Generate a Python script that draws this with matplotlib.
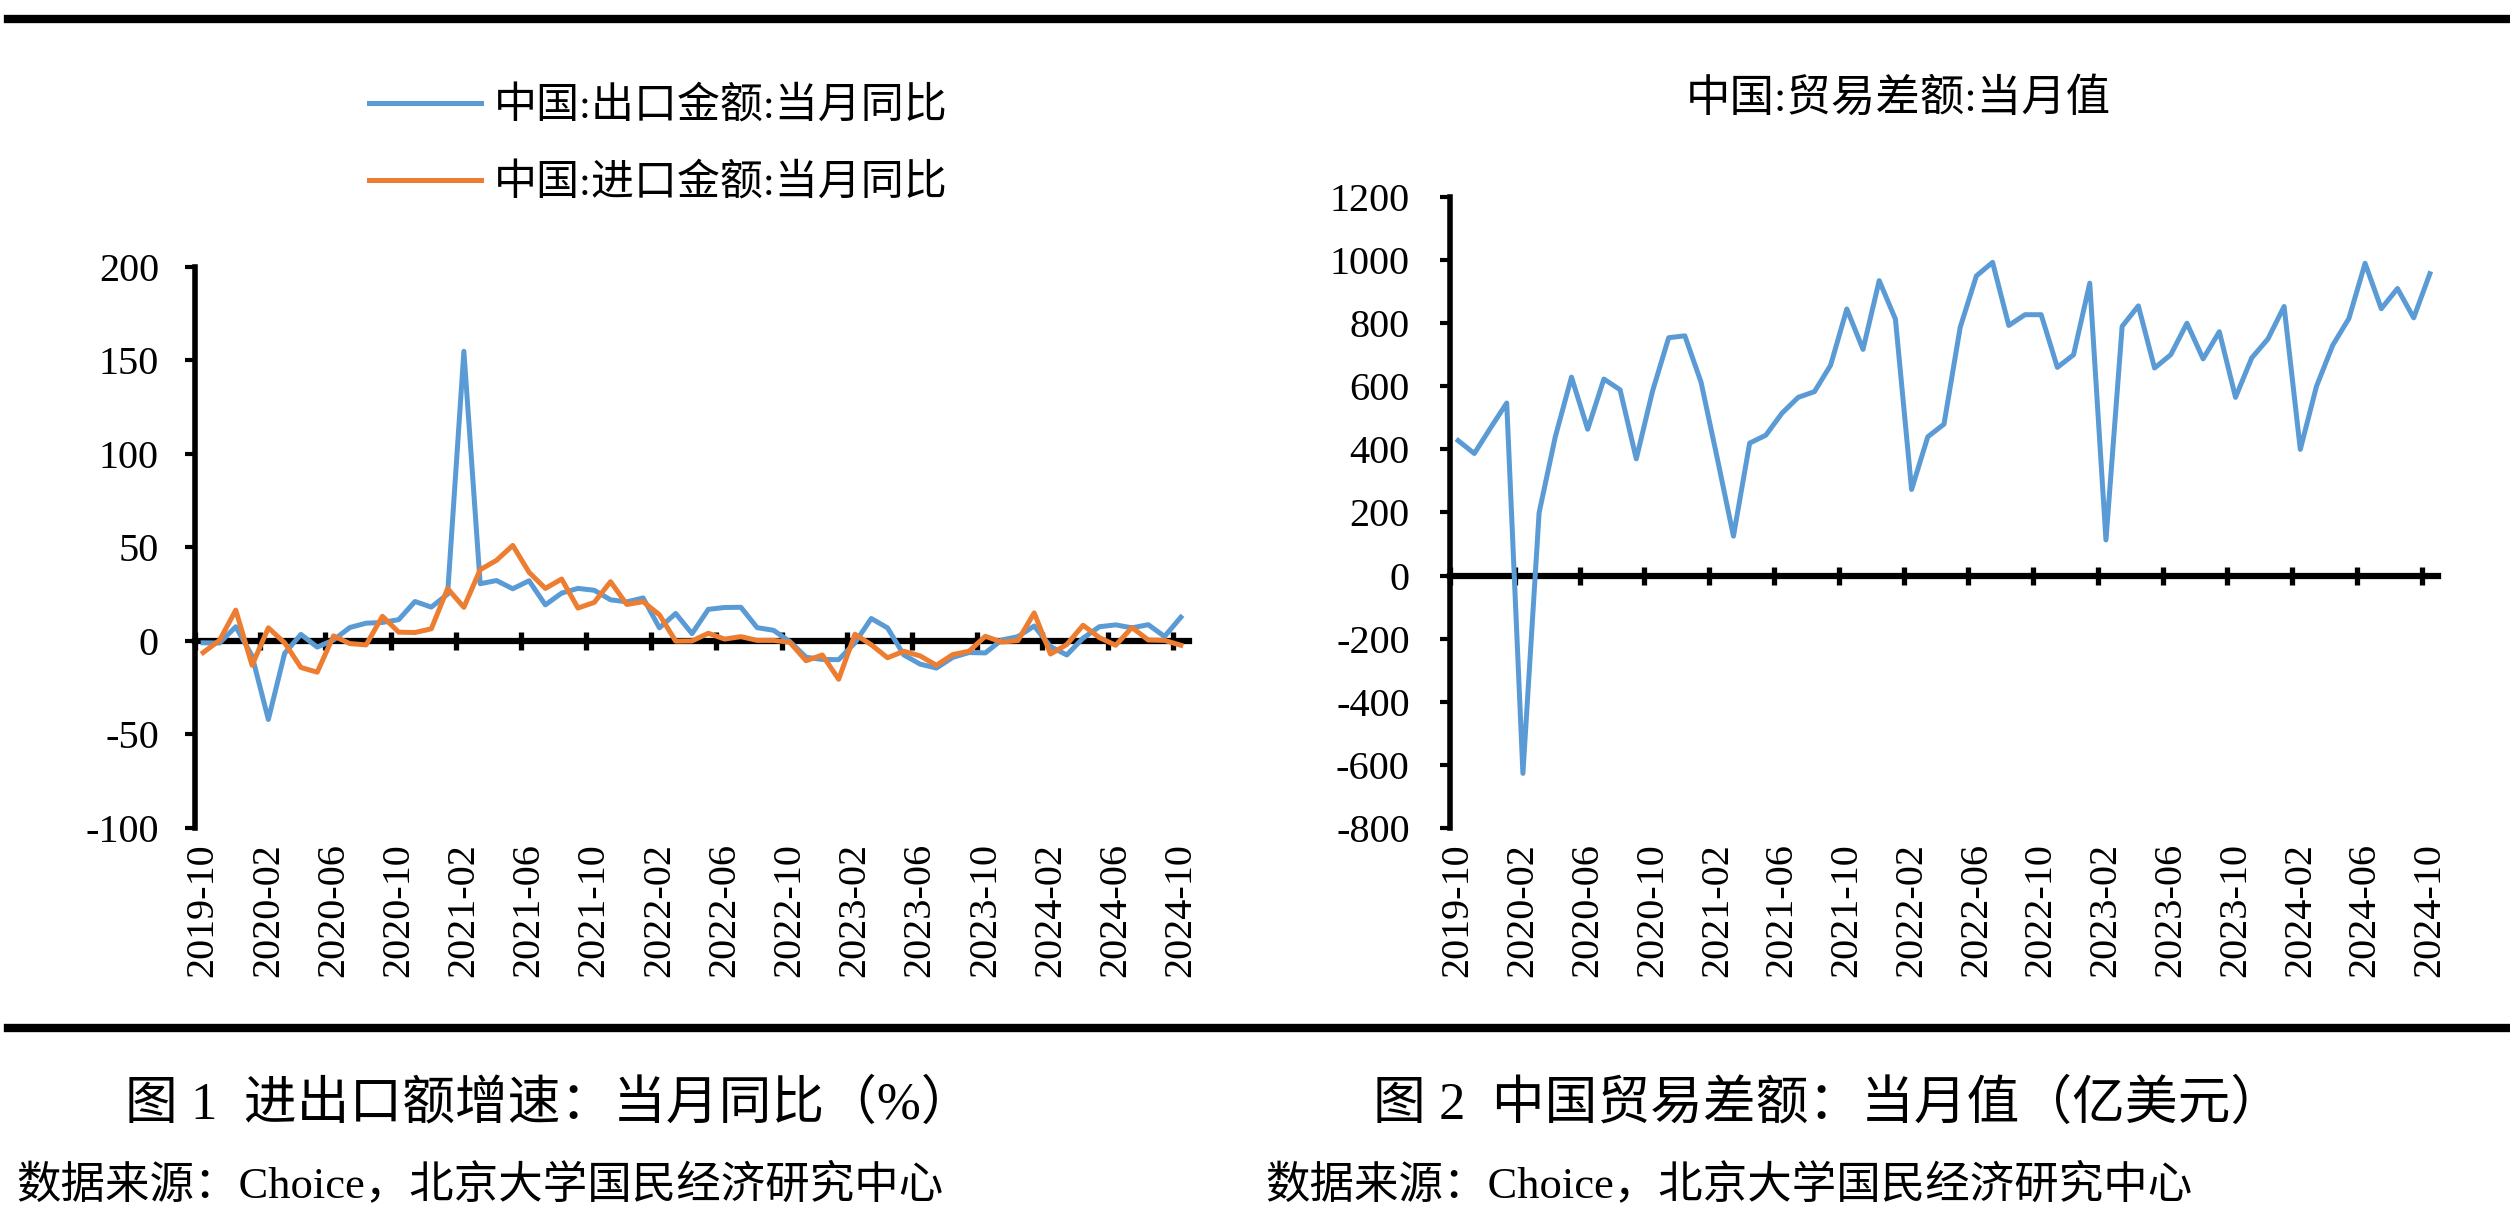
import matplotlib
matplotlib.use('Agg')
import matplotlib.pyplot as plt
from matplotlib.lines import Line2D
from matplotlib.font_manager import FontProperties
import numpy as np
import pandas as pd

# ---------------- data ----------------
months = [str(p) for p in pd.period_range('2019-10', '2024-10', freq='M')]
tick_labels = ['2019-10', '2020-02', '2020-06', '2020-10', '2021-02', '2021-06',
               '2021-10', '2022-02', '2022-06', '2022-10', '2023-02', '2023-06',
               '2023-10', '2024-02', '2024-06', '2024-10']

export_yoy = [-1.0, -1.1, 7.6, -8.0, -42.0, -6.6, 3.5, -3.3, 0.5, 7.2,
              9.5, 9.9, 11.4, 21.1, 18.1, 25.0, 154.9, 30.6, 32.3, 27.9,
              32.2, 19.3, 25.6, 28.1, 27.1, 22.0, 20.9, 23.0, 7.0, 14.7,
              3.9, 16.9, 17.9, 18.0, 7.1, 5.7, -0.3, -8.7, -9.9, -10.0,
              -1.0, 12.0, 7.0, -7.5, -12.4, -14.5, -8.8, -6.2, -6.4, 0.5,
              2.3, 8.0, -3.0, -7.5, 1.5, 7.6, 8.6, 7.0, 8.7, 2.4,
              12.7]

import_yoy = [-6.2, 0.3, 16.5, -13.0, 7.0, -1.0, -14.2, -16.7, 2.7, -1.4,
              -2.1, 13.2, 4.7, 4.5, 6.5, 28.0, 18.0, 38.1, 43.1, 51.1,
              36.7, 28.1, 33.1, 17.6, 20.6, 31.7, 19.5, 21.0, 14.0, -0.1,
              0.0, 4.1, 1.0, 2.3, 0.3, 0.3, -0.7, -10.6, -7.5, -20.5,
              3.6, -2.0, -9.0, -5.5, -8.0, -13.0, -7.3, -5.5, 2.5, -0.6,
              0.2, 15.0, -7.0, -1.9, 8.4, 1.8, -2.3, 7.2, 0.5, 0.3,
              -2.3]

trade_balance = [428, 387, 468, 547, -627, 199, 440, 629, 464, 623,
                 589, 370, 584, 754, 760, 613, 372, 125, 420, 445,
                 515, 565, 583, 667, 845, 717, 935, 813, 273, 440,
                 480, 787, 950, 993, 793, 827, 827, 660, 700, 927,
                 113, 790, 855, 658, 700, 800, 687, 773, 565, 690,
                 750, 853, 400, 600, 730, 815, 990, 846, 910, 817,
                 957]

legend_labels = ['中国:出口金额:当月同比', '中国:进口金额:当月同比']
right_title = '中国:贸易差额:当月值'
caption_left = '图 1  进出口额增速：当月同比（%）'
caption_right = '图 2  中国贸易差额：当月值（亿美元）'
source_text = '数据来源：Choice，北京大学国民经济研究中心'

left_yticks = [-100, -50, 0, 50, 100, 150, 200]
right_yticks = [-800, -600, -400, -200, 0, 200, 400, 600, 800, 1000, 1200]

# ---------------- style ----------------
BLUE = '#5B9BD5'
ORANGE = '#ED7D31'
NUM = 'Liberation Serif'
CJK = 'Noto Sans CJK SC'
plt.rcParams['font.family'] = [NUM, CJK, 'DejaVu Sans']
plt.rcParams['axes.unicode_minus'] = False

fig = plt.figure(figsize=(25.1, 12.14), dpi=100)
ax1 = fig.add_axes([0.0777, 0.3180, 0.3960, 0.4621])
ax2 = fig.add_axes([0.5777, 0.3180, 0.3936, 0.5197])

x = np.arange(len(months))


def style(ax, ylim, yticks, ypad):
    ax.set_xlim(-0.5, len(months) - 0.5)
    ax.set_ylim(*ylim)
    ax.set_yticks(yticks)
    for s in ['top', 'right', 'bottom']:
        ax.spines[s].set_visible(False)
    ax.spines['left'].set_linewidth(4)
    ax.tick_params(axis='y', direction='out', length=7, width=3,
                   labelsize=29, pad=ypad)
    ax.set_xticks(x[::4])
    ax.set_xticklabels(tick_labels, rotation=90)
    ax.tick_params(axis='x', length=0, labelsize=29, pad=11)
    zero_frac = (0 - ylim[0]) / (ylim[1] - ylim[0])
    sec = ax.secondary_xaxis(zero_frac)
    sec.spines['bottom'].set_linewidth(4.5)
    sec.set_xticks(np.arange(-0.5, len(months), 4))
    sec.tick_params(axis='x', direction='inout', length=13, width=3.8,
                    labelbottom=False, labeltop=False)
    return sec


style(ax1, (-100, 200), left_yticks, 19)
style(ax2, (-800, 1200), right_yticks, 22)

l1, = ax1.plot(x, export_yoy, color=BLUE, lw=3.6, zorder=5)
l2, = ax1.plot(x, import_yoy, color=ORANGE, lw=3.6, zorder=6)
ax2.plot(x, trade_balance, color=BLUE, lw=3.6, zorder=5)

fp_leg = FontProperties(family=[NUM, CJK], size=31)
fig.legend(handles=[l1, l2], labels=legend_labels, loc='center',
           bbox_to_anchor=(0.2622, 0.8800), bbox_transform=fig.transFigure,
           frameon=False, prop=fp_leg, handlelength=2.6, handletextpad=0.3,
           labelspacing=0.85, borderpad=0)

fig.text(0.7562, 0.9185, right_title, ha='center', va='center',
         fontproperties=FontProperties(family=[NUM, CJK], size=32))

fp_cap = FontProperties(family=[NUM, CJK], size=38)
fig.text(0.0498, 0.0898, caption_left, ha='left', va='center', fontproperties=fp_cap)
fig.text(0.547, 0.0898, caption_right, ha='left', va='center', fontproperties=fp_cap)

fp_src = FontProperties(family=[NUM, CJK], size=32)
fig.text(0.0064, 0.0239, source_text, ha='left', va='center', fontproperties=fp_src)
fig.text(0.504, 0.0239, source_text, ha='left', va='center', fontproperties=fp_src)

# separators
fig.add_artist(Line2D([0.003, 1.0], [0.9843, 0.9843], color='black', lw=6,
                      transform=fig.transFigure))
fig.add_artist(Line2D([0.003, 1.0], [0.1532, 0.1532], color='black', lw=6,
                      transform=fig.transFigure))

fig.savefig('out.png', dpi=100, facecolor='white')
